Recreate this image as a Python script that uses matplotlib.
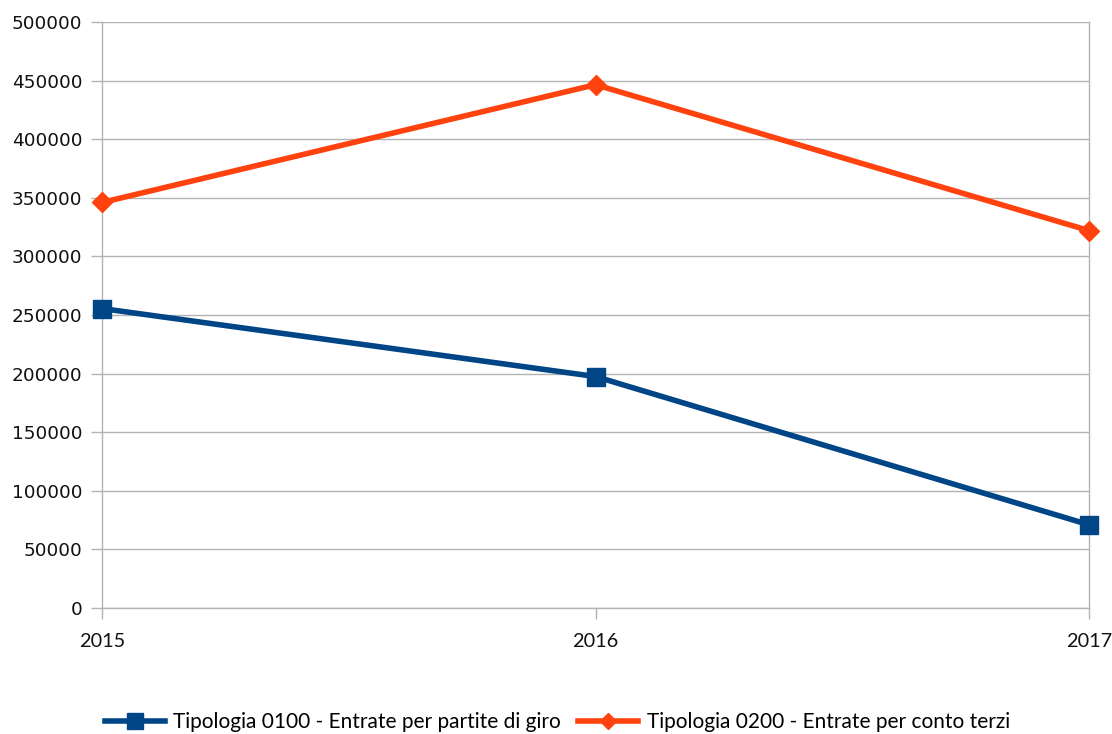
import matplotlib
matplotlib.use("Agg")
import matplotlib.pyplot as plt

years = [2015, 2016, 2017]
tip0100 = [255500, 197500, 71000]
tip0200 = [346000, 446500, 322000]
labels = ["Tipologia 0100 - Entrate per partite di giro",
          "Tipologia 0200 - Entrate per conto terzi"]
yticks = list(range(0, 500001, 50000))

blue = "#004586"
orange = "#ff420e"
grid = "#b3b3b3"

fig = plt.figure(figsize=(11.12, 7.34), dpi=100)
ax = fig.add_axes([102/1112, 1-608/734, (1089-102)/1112, (608-22)/734])

ax.plot(years, tip0100, color=blue, lw=4, marker="s", ms=13, label=labels[0], clip_on=False, zorder=5)
ax.plot(years, tip0200, color=orange, lw=4, marker="D", ms=10, label=labels[1], clip_on=False, zorder=5)

ax.set_xlim(2015, 2017)
ax.set_ylim(0, 500000)
ax.set_yticks(yticks)
ax.set_yticklabels([str(v) for v in yticks], fontfamily="DejaVu Sans", fontsize=13.3)
ax.set_xticks(years)
ax.set_xticklabels([str(y) for y in years], fontfamily="Lato", fontsize=14.3)
ax.yaxis.grid(True, color=grid, lw=1)
ax.set_axisbelow(True)
for s in ["left", "right", "bottom"]:
    ax.spines[s].set_color(grid)
    ax.spines[s].set_linewidth(1)
ax.spines["top"].set_visible(False)
ax.tick_params(axis="y", length=8, width=1, color=grid, pad=6, labelcolor="#111111")
ax.tick_params(axis="x", length=8, width=1, color=grid, pad=10, labelcolor="#111111")

fig.legend(loc="center", bbox_to_anchor=(0.501, 1-722/734), ncol=2, frameon=False,
           prop={"family": "Lato", "size": 15}, handlelength=2.9, handletextpad=0.4,
           columnspacing=0.8, markerscale=0.85)

fig.savefig("out.png", dpi=100, facecolor="white")
